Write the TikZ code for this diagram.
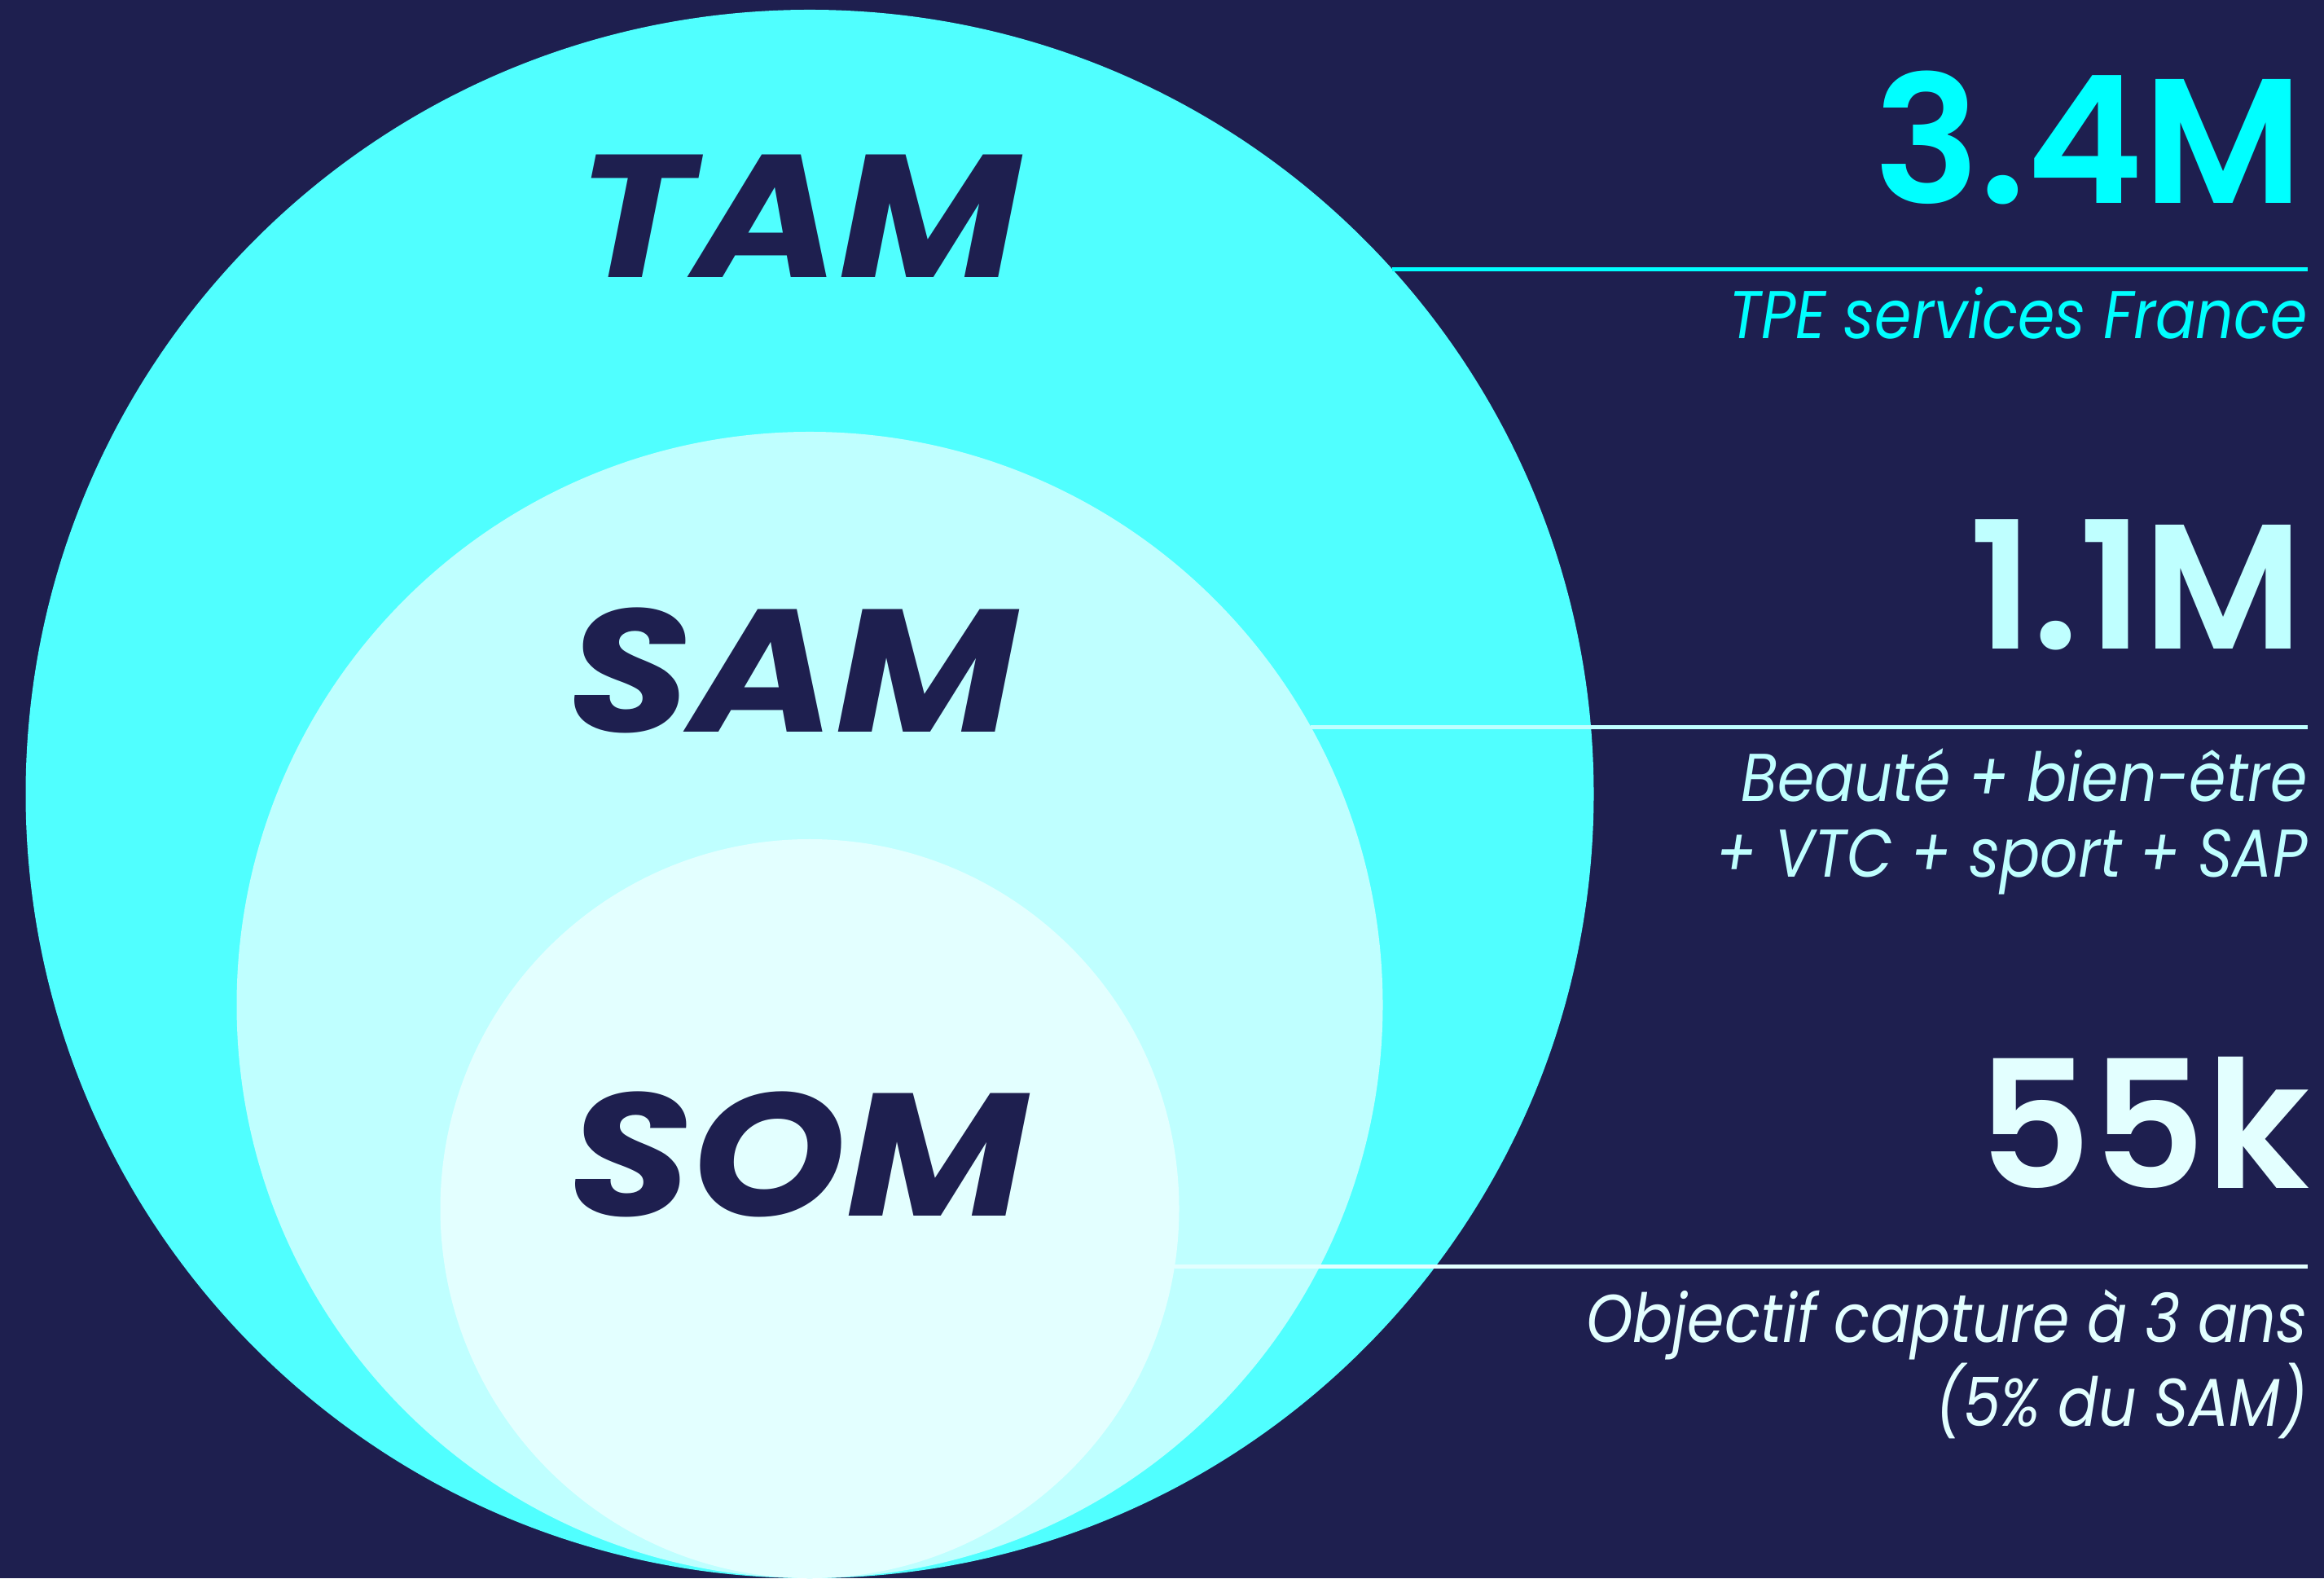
\documentclass[tikz,border=0pt]{standalone}
\usepackage{fontspec}
\usetikzlibrary{positioning}
\newfontfamily\ringfont[FakeStretch=1.13]{Poppins Bold Italic}
\newfontfamily\numfont{Poppins SemiBold}
\newfontfamily\descfont[FakeStretch=0.88]{Poppins Italic}
\definecolor{bgnavy}{HTML}{1E1F4F}
\definecolor{tamfill}{HTML}{50FFFF}
\definecolor{samfill}{HTML}{BFFFFF}
\definecolor{somfill}{HTML}{E3FFFF}
\definecolor{tamtext}{HTML}{00FFFF}
\tikzset{
	market/.style={circle, inner sep=0pt, outer sep=0pt},
	ringlabel/.style={anchor=base, inner sep=0pt, text=bgnavy, font=\ringfont\fontsize{61}{61}\selectfont},
	numlabel/.style={anchor=base east, inner sep=0pt, font=\numfont\fontsize{62}{62}\selectfont},
	desclabel/.style={anchor=base east, inner sep=0pt, align=right, font=\descfont\fontsize{23.6}{26.7}\selectfont},
	divider/.style={line width=1.4pt},
}

\begin{document}
\begin{tikzpicture}
	\fill[bgnavy] (0,0) rectangle (28.53,19.37);
	\useasboundingbox (0,0) rectangle (28.53,19.37);
	
	% nested market circles, all touching the bottom edge
	\node (tam) [market, fill=tamfill, minimum size=19.25cm] at (9.94,9.625) {};
	\node (sam) [market, fill=samfill, minimum size=14.07cm] at (9.94,7.035) {};
	\node (som) [market, fill=somfill, minimum size=9.07cm] at (9.94,4.535) {};
	
	\node (tamlbl) [ringlabel] at (9.81,15.96) {TAM};
	\node (samlbl) [ringlabel] at (9.73,10.38) {SAM};
	\node (somlbl) [ringlabel] at (9.80,4.44) {SOM};
	
	\coordinate (rightend) at (28.33,0);
	
	\draw[divider, tamtext] (tam.42) -- (tam.42 -| rightend);
	\draw[divider, samfill] (sam.29.8) -- (sam.29.8 -| rightend);
	\draw[divider, somfill] (som.-9.2) -- (som.-9.2 -| rightend);
	
	\node (tamnum) [numlabel, text=tamtext] at (28.28,16.87) {3.4M};
	\node (samnum) [numlabel, text=samfill] at (28.28,11.40) {1.1M};
	\node (somnum) [numlabel, text=somfill] at (28.36,4.78) {55k};
	
	\node (tamdesc) [desclabel, text=tamtext] at (28.33,15.21) {TPE services France};
	\node (samdesc) [desclabel, text=samfill] at (28.33,8.60) {Beauté + bien-être\\+ VTC + sport + SAP};
	\node (somdesc) [desclabel, text=somfill] at (28.33,1.87) {Objectif capture à 3 ans\\(5\% du SAM)};
	
\end{tikzpicture}
\end{document}
